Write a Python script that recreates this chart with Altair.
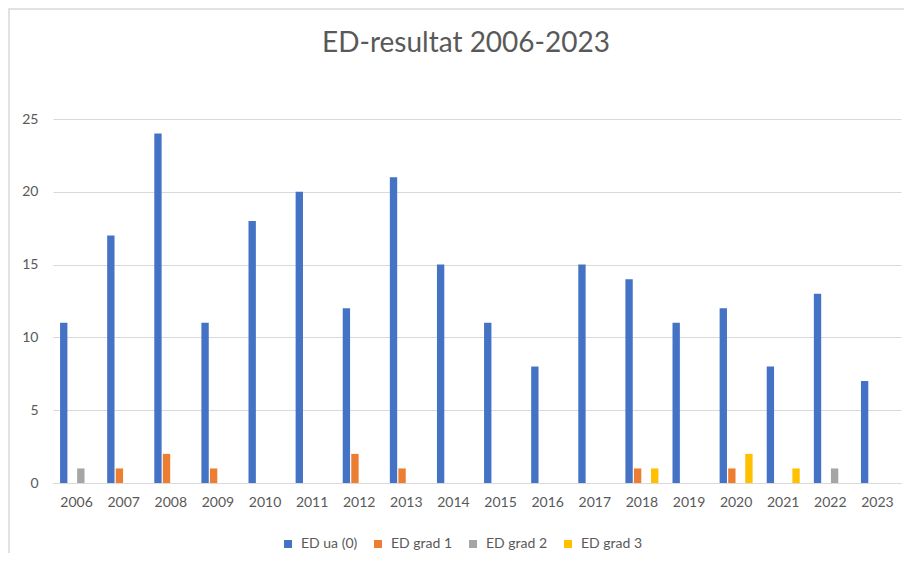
import altair as alt
import pandas as pd

years = [str(y) for y in range(2006, 2024)]
series = ["ED ua (0)", "ED grad 1", "ED grad 2", "ED grad 3"]
ed_ua0 = [11, 17, 24, 11, 18, 20, 12, 21, 15, 11, 8, 15, 14, 11, 12, 8, 13, 7]
ed_grad1 = [0, 1, 2, 1, 0, 0, 2, 1, 0, 0, 0, 0, 1, 0, 1, 0, 0, 0]
ed_grad2 = [1, 0, 0, 0, 0, 0, 0, 0, 0, 0, 0, 0, 0, 0, 0, 0, 1, 0]
ed_grad3 = [0, 0, 0, 0, 0, 0, 0, 0, 0, 0, 0, 0, 1, 0, 2, 1, 0, 0]
colors = ["#4472C4", "#ED7D31", "#A5A5A5", "#FFC000"]
y_ticks = [0, 5, 10, 15, 20, 25]

rows = []
for name, vals in zip(series, [ed_ua0, ed_grad1, ed_grad2, ed_grad3]):
    for yr, v in zip(years, vals):
        rows.append({"År": yr, "Serie": name, "Antal": v})
df = pd.DataFrame(rows)

FONT = "Lato"
GRAY = "#595959"

bars = alt.Chart(df).mark_bar().encode(
    x=alt.X("År:N", sort=years,
            scale=alt.Scale(paddingInner=0.3, paddingOuter=0.15),
            axis=alt.Axis(title=None, labelAngle=0, ticks=False,
                          domainColor="#D9D9D9", labelPadding=12,
                          labelFontSize=14, labelColor=GRAY, labelFont=FONT)),
    xOffset=alt.XOffset("Serie:N", sort=series,
                        scale=alt.Scale(domain=series, paddingInner=0.14, paddingOuter=0)),
    y=alt.Y("Antal:Q",
            scale=alt.Scale(domain=[0, 25], nice=False),
            axis=alt.Axis(title=None, values=y_ticks, domain=False, ticks=False,
                          gridColor="#D9D9D9", labelPadding=15,
                          labelFontSize=14, labelColor=GRAY, labelFont=FONT)),
    color=alt.Color("Serie:N", sort=series,
                    scale=alt.Scale(domain=series, range=colors),
                    legend=alt.Legend(title=None, orient="none", legendX=228, legendY=418,
                                      direction="horizontal", columns=4,
                                      symbolType="square", symbolSize=64,
                                      symbolStrokeWidth=0, labelOffset=6,
                                      columnPadding=13, labelFontSize=14,
                                      labelColor=GRAY, labelFont=FONT)),
)

border = alt.Chart(alt.Data(values=[{}])).mark_rect(
    fill=None, stroke="#D9D9D9", strokeWidth=1.5, clip=False
).encode(
    x=alt.value(-44), x2=alt.value(900), y=alt.value(-110), y2=alt.value(500)
)

chart = alt.layer(border, bars).properties(
    width=848, height=364,
    autosize=alt.AutoSizeParams(type="none"),
    padding={"left": 45, "top": 111, "right": 3, "bottom": 70},
    title=alt.Title("ED-resultat 2006-2023", fontSize=28, font=FONT, fontWeight="normal",
                    color=GRAY, anchor="middle", frame="group", dx=-11, offset=-72,
                    baseline="alphabetic"),
).configure_view(stroke=None)

chart.save("out.html", embed_options={"renderer": "svg", "actions": False})
